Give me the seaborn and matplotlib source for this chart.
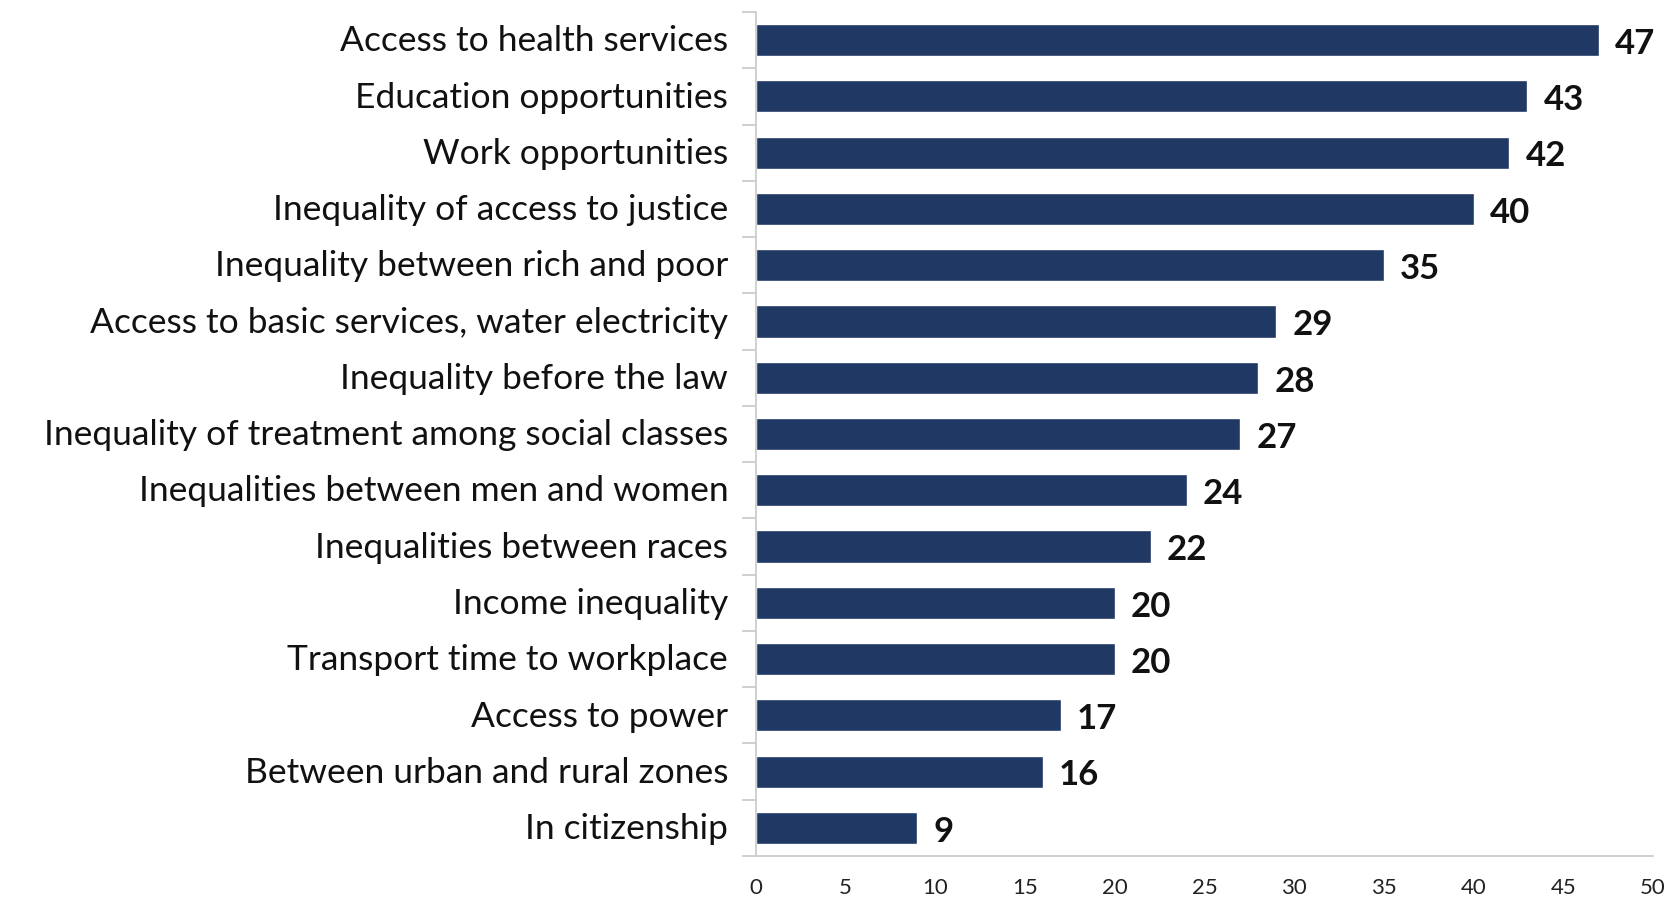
import matplotlib
matplotlib.use("Agg")
import matplotlib.pyplot as plt
import seaborn as sns
import pandas as pd
import numpy as np
from matplotlib.ticker import FixedLocator
from matplotlib.transforms import ScaledTranslation

categories = [
    "Access to health services",
    "Education opportunities",
    "Work opportunities",
    "Inequality of access to justice",
    "Inequality between rich and poor",
    "Access to basic services, water electricity",
    "Inequality before the law",
    "Inequality of treatment among social classes",
    "Inequalities between men and women",
    "Inequalities between races",
    "Income inequality",
    "Transport time to workplace",
    "Access to power",
    "Between urban and rural zones",
    "In citizenship",
]
values = [47, 43, 42, 40, 35, 29, 28, 27, 24, 22, 20, 20, 17, 16, 9]
x_ticks = [0, 5, 10, 15, 20, 25, 30, 35, 40, 45, 50]

sns.set_theme(style="white")
plt.rcParams["font.family"] = ["Lato", "DejaVu Sans"]

df = pd.DataFrame({"category": categories, "value": values})

fig = plt.figure(figsize=(16.7, 9.04), dpi=100)
ax = fig.add_axes([0.4527, 0.052, 0.9898 - 0.4527, 0.9856 - 0.052])

sns.barplot(data=df, x="value", y="category", order=categories,
            color="#203864", saturation=1, width=0.57, ax=ax)

ax.set_xlim(0, 50)
ax.set_ylim(len(categories) - 0.5, -0.5)
ax.set_xlabel("")
ax.set_ylabel("")

for i, v in enumerate(values):
    ax.text(v + 0.9, i + 0.05, f"{v}", va="center", ha="left",
            fontsize=25, fontweight="bold", color="#111111")

ax.set_xticks(x_ticks)
ax.set_xticklabels([str(t) for t in x_ticks], fontsize=16, color="#222222")
ax.tick_params(axis="x", which="major", direction="out", length=6,
               color="#c8c8c8", width=1.2, pad=9)
ax.tick_params(axis="y", which="major", length=0, pad=20,
               labelsize=25.5, labelcolor="#111111")
ax.yaxis.set_minor_locator(FixedLocator(np.arange(-0.5, len(categories), 1.0)))
ax.tick_params(axis="y", which="minor", direction="out", length=10,
               color="#c8c8c8", width=1.2, left=True)

shift = ScaledTranslation(0, 2 / 72, fig.dpi_scale_trans)
for lbl in ax.get_yticklabels():
    lbl.set_transform(lbl.get_transform() + shift)

for s in ["top", "right"]:
    ax.spines[s].set_visible(False)
for s in ["left", "bottom"]:
    ax.spines[s].set_color("#c8c8c8")
    ax.spines[s].set_linewidth(1.2)

fig.savefig("out.png", dpi=100, facecolor="white")
